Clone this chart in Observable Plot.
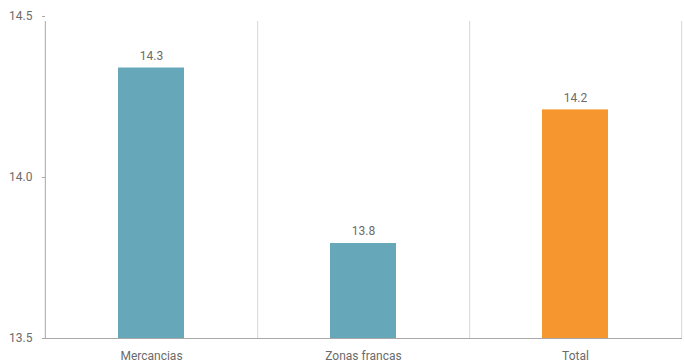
<!DOCTYPE html>
<html>
<head>
<meta charset="utf-8">
<script src="https://cdn.jsdelivr.net/npm/d3@7"></script>
<script src="https://cdn.jsdelivr.net/npm/@observablehq/plot@0.6"></script>
<style>
  html, body { margin: 0; padding: 0; background: #fff; }
  #chart svg { display: block; }
</style>
</head>
<body>
<div id="chart"></div>
<script>
const categories = ["Mercancias", "Zonas francas", "Total"];
const values = [14.34, 13.795, 14.21];
const valueLabels = ["14.3", "13.8", "14.2"];
const yTicks = [13.5, 14.0, 14.5];

const data = categories.map((c, i) => ({cat: c, value: values[i], label: valueLabels[i]}));

const W = 684, H = 362;
const mL = 45, mR = 2, mT = 16, mB = 24;
const step = (W - mL - mR) / categories.length;

const teal = "#66a8ba";
const orange = "#f5962f";
const font = "Roboto, 'Noto Sans', sans-serif";

const chart = Plot.plot({
  width: W,
  height: H,
  marginLeft: mL,
  marginRight: mR,
  marginTop: mT,
  marginBottom: mB,
  style: {fontFamily: font, fontSize: "12px", color: "#6b6b6b", background: "#fff"},
  x: {domain: categories, paddingInner: 0.6875, paddingOuter: 0.34375, label: null},
  y: {domain: [13.5, 14.5], label: null},
  marks: [
    Plot.ruleX(categories, {x: d => d, dx: step / 2, y1: 13.5, y2: 14.5, stroke: "#d6d6d6", strokeWidth: 1, insetBottom: -5}),
    Plot.barY(data, {x: "cat", y1: 13.5, y2: "value", fill: d => d.cat === "Total" ? orange : teal}),
    Plot.ruleX(categories.slice(0, 1), {x: d => d, dx: -step / 2, y1: 13.5, y2: 14.5, stroke: "#a8a8a8", strokeWidth: 1, insetBottom: -5}),
    Plot.ruleY([13.5], {stroke: "#a8a8a8", strokeWidth: 1, insetLeft: -3}),
    Plot.text(data, {x: "cat", y: "value", text: "label", dy: -12, fill: "#6b6b6b", fontSize: 12}),
    Plot.axisY({ticks: yTicks, tickFormat: d3.format(".1f"), tickSize: 3, tickPadding: 10, stroke: "#a8a8a8", color: "#6b6b6b", label: null}),
    Plot.axisX({tickSize: 0, tickPadding: 13, color: "#6b6b6b", label: null})
  ]
});
document.getElementById("chart").appendChild(chart);
</script>
</body>
</html>
